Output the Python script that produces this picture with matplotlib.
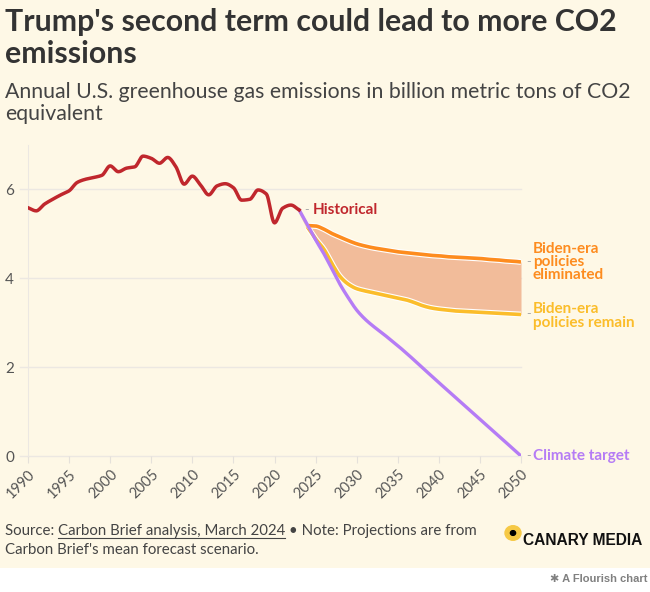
"""Recreation of the Canary Media / Flourish chart on US GHG emissions."""

import matplotlib
matplotlib.use("Agg")
import matplotlib.pyplot as plt
import matplotlib.patheffects as pe
import numpy as np

# ---- data (billion metric tons CO2e) ----
hist_years = list(range(1990, 2024))
hist_vals = [5.58, 5.51, 5.66, 5.77, 5.87, 5.96, 6.15, 6.22, 6.26, 6.31,
             6.52, 6.39, 6.47, 6.50, 6.74, 6.69, 6.58, 6.71, 6.50, 6.11,
             6.29, 6.09, 5.87, 6.07, 6.12, 6.03, 5.75, 5.77, 5.98, 5.89,
             5.24, 5.57, 5.64, 5.53]

proj_years = list(range(2024, 2051))
eliminated = [5.18, 5.17, 5.10, 5.00, 4.92, 4.84, 4.77, 4.72, 4.68, 4.65,
              4.62, 4.59, 4.57, 4.55, 4.53, 4.51, 4.50, 4.48, 4.47, 4.46,
              4.45, 4.44, 4.42, 4.41, 4.39, 4.38, 4.36]
remain = [5.15, 4.88, 4.65, 4.32, 4.03, 3.86, 3.76, 3.71, 3.67, 3.63,
          3.59, 3.55, 3.51, 3.45, 3.38, 3.33, 3.30, 3.28, 3.26, 3.25,
          3.24, 3.23, 3.22, 3.21, 3.20, 3.19, 3.18]

target_years = [2023, 2024, 2025, 2026, 2027, 2028, 2029, 2030, 2031, 2032,
                2033, 2034, 2035, 2040, 2045, 2050]
target_vals = [5.53, 5.20, 4.86, 4.55, 4.20, 3.85, 3.55, 3.28, 3.08, 2.92,
               2.78, 2.63, 2.48, 1.65, 0.83, 0.0]

x_ticks = list(range(1990, 2051, 5))
y_ticks = [0, 2, 4, 6]

BG = "#fef8e6"
RED = "#c0272d"
ORANGE = "#fd8c1f"
YELLOW = "#fbbd2b"
PURPLE = "#b57cf5"
FILL = "#f2bc9a"


def smooth(x, y, n=12):
    """Monotone cubic (Fritsch-Carlson) curve through the points, for drawing."""
    x = np.asarray(x, float)
    y = np.asarray(y, float)
    h = np.diff(x)
    d = np.diff(y) / h
    m = np.zeros_like(y)
    m[0], m[-1] = d[0], d[-1]
    for i in range(1, len(y) - 1):
        if d[i - 1] * d[i] > 0:
            w1 = 2 * h[i] + h[i - 1]
            w2 = h[i] + 2 * h[i - 1]
            m[i] = (w1 + w2) / (w1 / d[i - 1] + w2 / d[i])
    xs, ys = [], []
    for i in range(len(x) - 1):
        t = np.linspace(0, 1, n, endpoint=False)
        h00 = 2 * t**3 - 3 * t**2 + 1
        h10 = t**3 - 2 * t**2 + t
        h01 = -2 * t**3 + 3 * t**2
        h11 = t**3 - t**2
        xs.append(x[i] + t * h[i])
        ys.append(h00 * y[i] + h10 * h[i] * m[i] + h01 * y[i + 1] + h11 * h[i] * m[i + 1])
    xs.append([x[-1]])
    ys.append([y[-1]])
    return np.concatenate(xs), np.concatenate(ys)


plt.rcParams["font.family"] = ["Lato", "DejaVu Sans"]

W, H = 650, 592
fig = plt.figure(figsize=(W / 100, H / 100), dpi=100)
fig.patch.set_facecolor("white")
# cream card above the white Flourish footer
fig.patches.append(plt.Rectangle((0, 24 / H), 1, 1 - 24 / H, transform=fig.transFigure,
                                 facecolor=BG, edgecolor="none", zorder=-5))


def px(x, y):
    return x / W, 1 - y / H


ax = fig.add_axes([28 / W, (H - 456) / H, (521 - 28) / W, (456 - 145) / H])
ax.set_zorder(2)
ax.set_facecolor("none")
ax.set_xlim(1990, 2050)
ax.set_ylim(0, 6.99)

for v in y_ticks:
    ax.axhline(v, xmin=-0.016, xmax=1, color="#ece8e2", lw=1, zorder=1, clip_on=False)
for s in ["top", "right", "bottom"]:
    ax.spines[s].set_visible(False)
ax.spines["left"].set_color("#ece8e2")

ax.set_xticks(x_ticks)
ax.set_xticklabels([str(t) for t in x_ticks], rotation=45, ha="right", va="top",
                   rotation_mode="anchor", fontsize=10.5, color="#555555")
ax.tick_params(axis="x", length=5, color="#e5e1da", pad=3)
ax.set_yticks(y_ticks)
ax.set_yticklabels([str(t) for t in y_ticks], fontsize=11, color="#555555")
ax.tick_params(axis="y", length=0, pad=10)

# band between the two projections
ex, ey = smooth(proj_years, eliminated)
rx, ry = smooth(proj_years, remain)
ax.fill_between(ex, ry, ey, color=FILL, lw=0, zorder=2)

halo = [pe.Stroke(linewidth=4.2, foreground="white"), pe.Normal()]
# faint connectors from the last historical year
ax.plot([hist_years[-1], proj_years[0]], [hist_vals[-1], eliminated[0]],
        color=ORANGE, lw=2, alpha=0.25, zorder=3)
ax.plot([hist_years[-1], proj_years[0]], [hist_vals[-1], remain[0]],
        color=YELLOW, lw=2, alpha=0.25, zorder=3)
ax.plot(rx, ry, color=YELLOW, lw=2.6, zorder=4, path_effects=halo,
        solid_capstyle="butt")
ax.plot(ex, ey, color=ORANGE, lw=2.6, zorder=4, path_effects=halo,
        solid_capstyle="butt")

tx, ty = smooth(target_years, target_vals)
ax.plot(tx, ty, color=PURPLE, lw=2.4, zorder=5)

hx, hy = smooth(hist_years, hist_vals)
ax.plot(hx, hy, color=RED, lw=2.5, zorder=6)


# end labels
def end_label(x, y, text, color, dash_dx=3.5, text_dx=9.5, lines_off=0.0):
    ax.annotate("-", xy=(x, y), xytext=(dash_dx, 0), textcoords="offset points",
                color="#aaaaaa", fontsize=9, va="center", ha="left", annotation_clip=False)
    ax.annotate(text, xy=(x, y), xytext=(text_dx, lines_off), textcoords="offset points",
                color=color, fontsize=11, fontweight="bold", va="center", ha="left",
                linespacing=0.95, annotation_clip=False)


end_label(hist_years[-1], hist_vals[-1], "Historical", RED, text_dx=10)
end_label(proj_years[-1], eliminated[-1], "Biden-era\npolicies\neliminated", ORANGE, text_dx=8.5)
end_label(proj_years[-1], remain[-1], "Biden-era\npolicies remain", YELLOW, text_dx=8.5,
          lines_off=-1)
end_label(target_years[-1], target_vals[-1], "Climate target", PURPLE, text_dx=8.5)

# header
fig.text(*px(5, 31), "Trump's second term could lead to more CO2", fontsize=21.8,
         fontweight="bold", color="#333333", va="baseline")
fig.text(*px(5, 63), "emissions", fontsize=21.8, fontweight="bold", color="#333333",
         va="baseline")
fig.text(*px(5, 98), "Annual U.S. greenhouse gas emissions in billion metric tons of CO2",
         fontsize=15.3, color="#444444", va="baseline")
fig.text(*px(5, 120), "equivalent", fontsize=15.3, color="#444444", va="baseline")

# footer
FS = 10.8
src = fig.text(*px(5, 535), "Source: ", fontsize=FS, color="#444444", va="baseline")
fig.canvas.draw()
r = fig.canvas.get_renderer()
bb = src.get_window_extent(r)
link = fig.text(bb.x1 / W, 1 - 535 / H, "Carbon Brief analysis, March 2024", fontsize=FS,
                color="#444444", va="baseline")
bb2 = link.get_window_extent(r)
fig.add_artist(plt.Line2D([bb2.x0 / W, bb2.x1 / W], [1 - 538 / H, 1 - 538 / H],
                          color="#444444", lw=0.8, transform=fig.transFigure))
fig.text(bb2.x1 / W, 1 - 535 / H, " \u2022 Note: Projections are from", fontsize=FS,
         color="#444444", va="baseline")
fig.text(*px(5, 554), "Carbon Brief's mean forecast scenario.", fontsize=FS,
         color="#444444", va="baseline")

# logo
fig.add_artist(plt.Circle(px(513, 533), 8 / W, color="#f6c945", transform=fig.transFigure))
fig.add_artist(plt.Circle(px(513, 533), 2.6 / W, color="black", transform=fig.transFigure))
fig.text(*px(523, 545), "CANARY MEDIA", fontsize=11.2, fontweight="bold", color="#111111",
         va="baseline", family=["Liberation Sans", "DejaVu Sans"])

fig.text(*px(647, 582), "\u2731 A Flourish chart", fontsize=8, fontweight="bold",
         color="#808080", ha="right", va="baseline", family=["Liberation Sans", "DejaVu Sans"])

fig.savefig("out.png", dpi=100, facecolor=fig.get_facecolor())
